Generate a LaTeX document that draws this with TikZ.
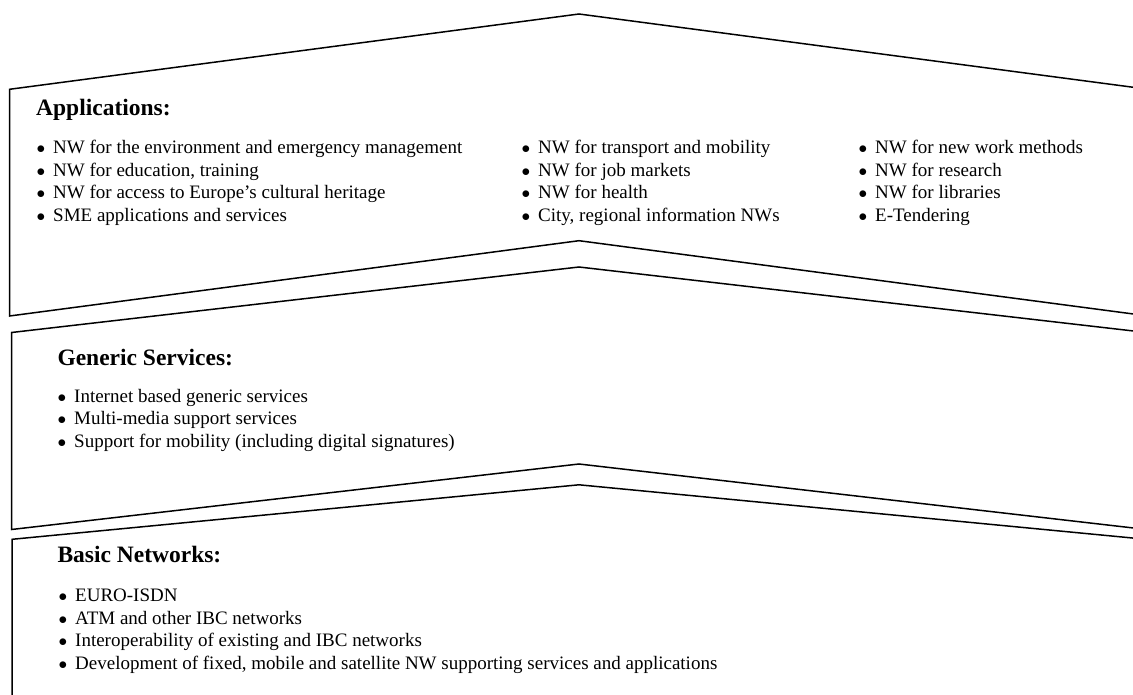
\documentclass[tikz,border=0pt]{standalone}
\usepackage{fontspec}
\setmainfont{Liberation Serif}

% bullet with a fixed gap before the item text
\newcommand{\bul}{\makebox[16.5pt][l]{$\bullet$}}
% one chevron layer: left x, top-left y, peak y, height
\newcommand{\chevlayer}[4]{%
  \draw[layer] (#1,#2) -- (579,#3) -- (1158-#1,#2) -- (1158-#1,#2+#4)
    -- (579,#3+#4) -- (#1,#2+#4) -- cycle;}

\begin{document}
\begin{tikzpicture}[
  x=1pt, y=-1pt,
  layer/.style={draw, line width=1.5pt, line join=miter},
  head/.style={anchor=base west, inner sep=0pt, font=\fontsize{23.5}{27}\selectfont\bfseries},
  item/.style={anchor=base west, inner sep=0pt, font=\fontsize{19}{22.6}\selectfont},
]
\useasboundingbox (0,0) rectangle (1133,695);
\clip (0,0) rectangle (1133,695);

% === Layers ===
\chevlayer{9.5}{89.3}{14}{226.7}
\chevlayer{11.5}{332.5}{267}{197}
\chevlayer{12}{539.3}{484.8}{240}

% === Applications ===
\node[head] (apps) at (36,115.6) {Applications:};
\foreach \txt [count=\i from 0] in {NW for the environment and emergency management,
    {NW for education, training}, NW for access to Europe's cultural heritage,
    SME applications and services}
  \node[item] (app-a\i) at (53-16.5,153.5+22.6*\i) {\bul\txt};
\foreach \txt [count=\i from 0] in {NW for transport and mobility, NW for job markets,
    NW for health, {City, regional information NWs}}
  \node[item] (app-b\i) at (538-16.5,153.5+22.6*\i) {\bul\txt};
\foreach \txt [count=\i from 0] in {NW for new work methods, NW for research,
    NW for libraries, E-Tendering}
  \node[item] (app-c\i) at (875-16.5,153.5+22.6*\i) {\bul\txt};

% === Generic Services ===
\node[head] (gen) at (57.3,365.5) {Generic Services:};
\foreach \txt [count=\i from 0] in {Internet based generic services,
    Multi-media support services, Support for mobility (including digital signatures)}
  \node[item] (gen-\i) at (74-16.5,402+22.6*\i) {\bul\txt};

% === Basic Networks ===
\node[head] (basic) at (57.3,562.6) {Basic Networks:};
\foreach \txt [count=\i from 0] in {EURO-ISDN, ATM and other IBC networks,
    Interoperability of existing and IBC networks,
    {Development of fixed, mobile and satellite NW supporting services and applications}}
  \node[item] (basic-\i) at (75-16.5,601.5+22.6*\i) {\bul\txt};

\end{tikzpicture}
\end{document}
